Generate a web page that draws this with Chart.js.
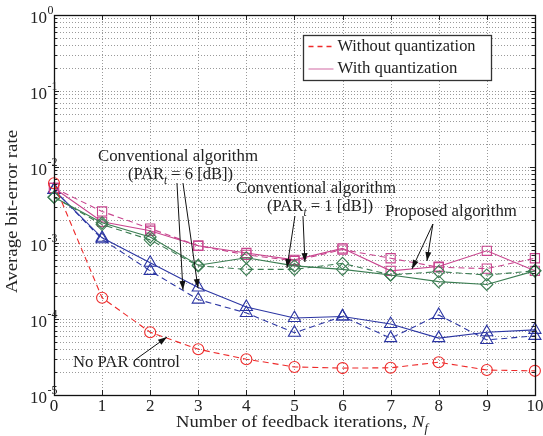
<!DOCTYPE html>
<html><head><meta charset="utf-8">
<script src="https://cdn.jsdelivr.net/npm/chart.js@4.4.1/dist/chart.umd.min.js"></script>
<style>html,body{margin:0;padding:0;background:#fff}#wrap{width:543px;height:436px}
#fl{position:absolute;left:-999px;top:0;font-family:"Liberation Serif";font-size:16px}</style>
</head><body><div id="wrap"><canvas id="c" width="543" height="436"></canvas></div>
<span id="fl">Aa <i>Nf</i></span>
<script>
// ---- data ----
const iterations = [0,1,2,3,4,5,6,7,8,9,10];
const xTickLabels = ['0','1','2','3','4','5','6','7','8','9','10'];
const yTickExponents = [0,-1,-2,-3,-4,-5];
const noParControl = [6.1e-3,1.9e-4,6.7e-5,4.0e-5,2.96e-5,2.34e-5,2.26e-5,2.28e-5,2.7e-5,2.13e-5,2.08e-5];
const conv6WithQ   = [5.0e-3,1.17e-3,5.5e-4,2.6e-4,1.44e-4,1.03e-4,1.08e-4,8.6e-5,5.6e-5,6.7e-5,7.2e-5];
const conv6NoQ     = [5.0e-3,1.12e-3,4.3e-4,1.8e-4,1.2e-4,6.6e-5,1.08e-4,5.6e-5,1.13e-4,5.3e-5,6.0e-5];
const propWithQ    = [5.3e-3,1.9e-3,1.45e-3,9.2e-4,7.4e-4,6.0e-4,8.5e-4,4.3e-4,4.9e-4,7.9e-4,4.3e-4];
const propNoQ      = [5.3e-3,2.6e-3,1.55e-3,9.2e-4,7.0e-4,5.8e-4,8.2e-4,6.3e-4,4.8e-4,4.6e-4,6.3e-4];
const conv1WithQ   = [4.0e-3,1.85e-3,1.2e-3,5.1e-4,6.4e-4,5.0e-4,4.5e-4,3.8e-4,3.1e-4,2.85e-4,4.3e-4];
const conv1NoQ     = [4.0e-3,1.75e-3,1.1e-3,5.0e-4,4.5e-4,4.5e-4,5.4e-4,3.8e-4,4.2e-4,3.8e-4,4.3e-4];
const legendLabels = ['Without quantization','With quantization'];

const RED='#ee2a2a', BLUE='#2b35a3', MAG='#c8448e', GREEN='#3b7d52', LEGPINK='#dc8cb8';
const FONT='"Liberation Serif"';

function pts(arr){ return iterations.map((x,i)=>({x:x,y:arr[i]})); }
function ds(arr,color,dashed,style,r){
  return {data:pts(arr),borderColor:color,borderWidth:1.1,borderDash:dashed?[6,4]:[],
    pointStyle:style,pointRadius:r,pointBorderColor:color,pointBackgroundColor:'rgba(0,0,0,0)',
    pointBorderWidth:1.1,fill:false,tension:0,clip:false};
}

// annotations in data coordinates (x, log10 y)
const annoTexts = [
  {segs:[{t:'Conventional algorithm'}], x:0.915, ly:-1.868, w:160},
  {segs:[{t:'(PAR'},{t:'t',sub:true},{t:' = 6 [dB])'}], x:1.538, ly:-2.105, w:105},
  {segs:[{t:'Conventional algorithm'}], x:3.784, ly:-2.289, w:160},
  {segs:[{t:'(PAR'},{t:'t',sub:true},{t:' = 1 [dB])'}], x:4.428, ly:-2.526, w:106},
  {segs:[{t:'Proposed algorithm'}], x:6.881, ly:-2.592, w:132},
  {segs:[{t:'No PAR control'}], x:0.395, ly:-4.579, w:107}
];
const annoArrows = [
  [2.557,-2.211,2.682,-3.618],[2.682,-2.211,2.994,-3.592],
  [5.010,-2.645,4.844,-3.329],[5.177,-2.645,5.218,-3.250],
  [7.879,-2.750,7.443,-3.342],[7.879,-2.750,7.755,-3.237],
  [1.684,-4.539,2.349,-4.237]
];

function drawRich(ctx,segs,x,y,w,size,rotate){
  const parts=segs.map(s=>{
    const sz=s.sub?size*0.68:(s.sup?size*0.68:size);
    const f=(s.it||s.sub?'italic ':'')+sz+'px '+FONT;
    ctx.font=f; return {t:s.t,f:f,w:ctx.measureText(s.t).width,dy:s.sub?size*0.33:(s.sup?-size*0.38:0)};
  });
  const tot=parts.reduce((a,p)=>a+p.w,0);
  const sc=w?w/tot:1;
  ctx.save(); ctx.translate(x,y); if(rotate) ctx.rotate(rotate); ctx.scale(sc,1);
  ctx.textBaseline='middle'; ctx.textAlign='left'; ctx.fillStyle='#222';
  let cx=0; for(const p of parts){ ctx.font=p.f; ctx.fillText(p.t,cx,p.dy); cx+=p.w; }
  ctx.restore();
  return tot*sc;
}
function arrow(ctx,x1,y1,x2,y2){
  ctx.save(); ctx.strokeStyle='#111'; ctx.fillStyle='#111'; ctx.lineWidth=1;
  ctx.beginPath(); ctx.moveTo(x1,y1); ctx.lineTo(x2,y2); ctx.stroke();
  const a=Math.atan2(y2-y1,x2-x1), L=9, W=3;
  ctx.beginPath(); ctx.moveTo(x2,y2);
  ctx.lineTo(x2-L*Math.cos(a)+W*Math.sin(a), y2-L*Math.sin(a)-W*Math.cos(a));
  ctx.lineTo(x2-L*Math.cos(a)-W*Math.sin(a), y2-L*Math.sin(a)+W*Math.cos(a));
  ctx.closePath(); ctx.fill(); ctx.restore();
}

const gridPlugin = {
  id:'matlabGrid',
  beforeDatasetsDraw(chart){
    const ctx=chart.ctx, a=chart.chartArea, xs=chart.scales.x, ys=chart.scales.y;
    ctx.save(); ctx.strokeStyle='#9a9a9a'; ctx.lineWidth=1; ctx.setLineDash([1,2]);
    for(const v of iterations){ const px=Math.round(xs.getPixelForValue(v))+0.5;
      ctx.beginPath(); ctx.moveTo(px,a.top); ctx.lineTo(px,a.bottom); ctx.stroke(); }
    for(let e=-5;e<0;e++) for(let m=1;m<=9;m++){
      const py=Math.round(ys.getPixelForValue(m*Math.pow(10,e)))+0.5;
      ctx.beginPath(); ctx.moveTo(a.left,py); ctx.lineTo(a.right,py); ctx.stroke(); }
    ctx.restore();
  },
  afterDatasetsDraw(chart){
    const ctx=chart.ctx, a=chart.chartArea, xs=chart.scales.x, ys=chart.scales.y;
    ctx.save();
    // ticks
    ctx.strokeStyle='#222'; ctx.lineWidth=1;
    for(const v of iterations){ const px=Math.round(xs.getPixelForValue(v))+0.5;
      ctx.beginPath(); ctx.moveTo(px,a.bottom); ctx.lineTo(px,a.bottom-5);
      ctx.moveTo(px,a.top); ctx.lineTo(px,a.top+5); ctx.stroke(); }
    for(let e=-5;e<=0;e++) for(let m=1;m<=9;m++){
      if(e===0&&m>1) break;
      const py=Math.round(ys.getPixelForValue(m*Math.pow(10,e)))+0.5, L=m===1?5:3;
      ctx.beginPath(); ctx.moveTo(a.left,py); ctx.lineTo(a.left+L,py);
      ctx.moveTo(a.right,py); ctx.lineTo(a.right-L,py); ctx.stroke(); }
    // border
    ctx.lineWidth=1.3; ctx.strokeStyle='#111';
    ctx.strokeRect(Math.round(a.left)+0.5,Math.round(a.top)+0.5,Math.round(a.right-a.left),Math.round(a.bottom-a.top));
    // x tick labels
    ctx.fillStyle='#222'; ctx.font='17px '+FONT; ctx.textAlign='center'; ctx.textBaseline='middle';
    iterations.forEach((v,i)=>{ ctx.fillText(xTickLabels[i], xs.getPixelForValue(v), a.bottom+12); });
    // y tick labels
    for(const e of yTickExponents){
      const py=ys.getPixelForValue(Math.pow(10,e));
      ctx.font='17px '+FONT; ctx.textAlign='right'; ctx.textBaseline='middle';
      ctx.fillText('10', a.left-7, py+3.5);
      ctx.font='12px '+FONT; ctx.textAlign='left';
      ctx.fillText(e===0?'0':'-'+(-e), a.left-6.5, py-4.5);
    }
    // axis titles
    drawRich(ctx,[{t:'Number of feedback iterations, '},{t:'N',it:true},{t:'f',sub:true}],176,a.bottom+28,252,17);
    drawRich(ctx,[{t:'Average bit-error rate'}],13,293,163,17,-Math.PI/2);
    // annotations
    for(const t of annoTexts){
      drawRich(ctx,t.segs,xs.getPixelForValue(t.x),ys.getPixelForValue(Math.pow(10,t.ly)),t.w,17);
    }
    for(const r of annoArrows){
      arrow(ctx,xs.getPixelForValue(r[0]),ys.getPixelForValue(Math.pow(10,r[1])),
                xs.getPixelForValue(r[2]),ys.getPixelForValue(Math.pow(10,r[3])));
    }
    // legend
    const lx=a.left+249.5, ly=a.top+20.5, lw=188, lh=45;
    ctx.fillStyle='#fff'; ctx.fillRect(lx,ly,lw,lh);
    ctx.strokeStyle='#333'; ctx.lineWidth=1.3; ctx.setLineDash([]); ctx.strokeRect(lx,ly,lw,lh);
    const rows=[{c:RED,d:[5,4],y:ly+11},{c:LEGPINK,d:[],y:ly+33.5}];
    rows.forEach((r,i)=>{
      ctx.strokeStyle=r.c; ctx.lineWidth=1.3; ctx.setLineDash(r.d);
      ctx.beginPath(); ctx.moveTo(lx+5,r.y); ctx.lineTo(lx+30,r.y); ctx.stroke();
      ctx.setLineDash([]);
      drawRich(ctx,[{t:legendLabels[i]}],lx+34,r.y,i===0?138:120,17);
    });
    ctx.restore();
  }
};

function build(){
  new Chart(document.getElementById('c'),{
    type:'line',
    data:{datasets:[
      ds(noParControl,RED,true,'circle',5.5),
      ds(conv1NoQ,GREEN,true,'rectRot',6),
      ds(conv1WithQ,GREEN,false,'rectRot',6),
      ds(propNoQ,MAG,true,'rect',6.5),
      ds(propWithQ,MAG,false,'rect',6.5),
      ds(conv6NoQ,BLUE,true,'triangle',7),
      ds(conv6WithQ,BLUE,false,'triangle',7)
    ]},
    options:{
      responsive:false, animation:false, devicePixelRatio:1,
      layout:{padding:{top:15,right:8,left:0,bottom:0}},
      plugins:{legend:{display:false},tooltip:{enabled:false}},
      scales:{
        x:{type:'linear',min:0,max:10,ticks:{display:false},grid:{display:false},border:{display:false},
           afterFit:s=>{s.height=41;}},
        y:{type:'logarithmic',min:1e-5,max:1,ticks:{display:false},grid:{display:false},border:{display:false},
           afterFit:s=>{s.width=54;}}
      }
    },
    plugins:[gridPlugin]
  });
}
Promise.all([
  document.fonts.load('16px "Liberation Serif"'),
  document.fonts.load('italic 16px "Liberation Serif"')
]).then(build, build);
</script></body></html>
